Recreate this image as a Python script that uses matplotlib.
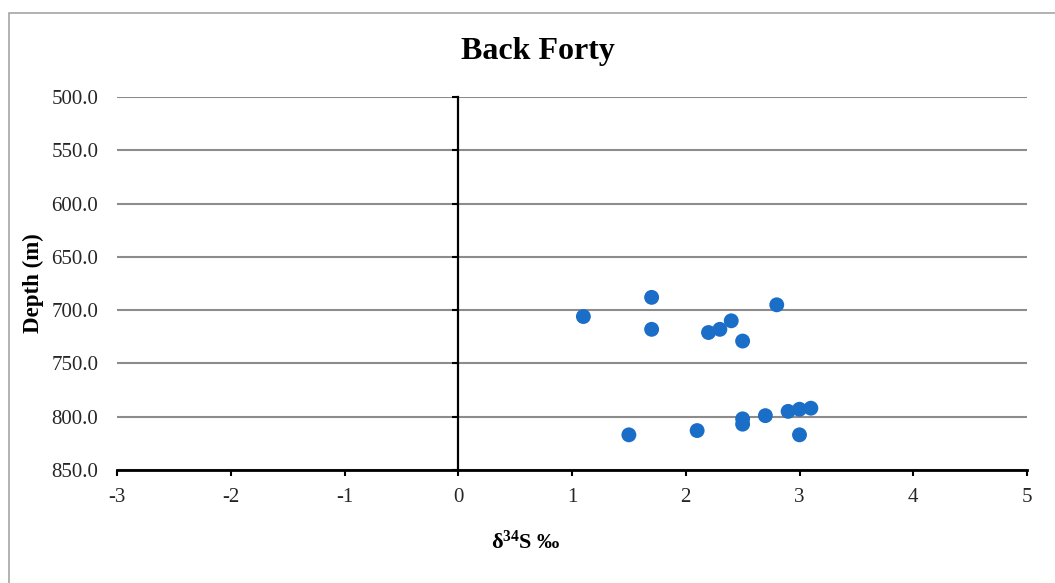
import numpy as np
import matplotlib
matplotlib.use('Agg')
import matplotlib.pyplot as plt
from matplotlib.patches import Rectangle
from matplotlib.ticker import FormatStrFormatter

plt.rcParams['font.family'] = ['Liberation Serif', 'DejaVu Serif']
plt.rcParams['mathtext.default'] = 'regular'
plt.rcParams['axes.unicode_minus'] = False

# data
d34s = [1.1, 1.7, 1.7, 2.2, 2.3, 2.4, 2.5, 2.8,
        1.5, 2.1, 2.5, 2.5, 2.7, 2.9, 3.0, 3.1, 3.0]
depth = [706, 688, 718, 721, 718, 710, 729, 695,
         817, 813, 802, 807, 799, 795, 793, 792, 817]

x_ticks = [-3, -2, -1, 0, 1, 2, 3, 4, 5]
y_ticks = [500, 550, 600, 650, 700, 750, 800, 850]

fig = plt.figure(figsize=(10.55, 5.83), dpi=100)
ax = fig.add_axes([117 / 1055, 1 - 470 / 583, 910 / 1055, 373 / 583])

# chart area border (runs off the right/bottom edge)
fig.patches.append(Rectangle((9 / 1055, -0.2), 1.2, 1.2 - 13 / 583,
                             transform=fig.transFigure, fill=False,
                             edgecolor='#a6a6a6', lw=1.2))

ax.scatter(d34s, depth, s=115, color='#1b6ec8', zorder=3, edgecolors='none')

ax.set_xlim(-3, 5)
ax.set_ylim(850, 500)
ax.set_xticks(x_ticks)
ax.set_yticks(y_ticks)
ax.yaxis.grid(True, color='#8c8c8c', lw=1.5)
ax.set_axisbelow(True)

for s in ['top', 'right']:
    ax.spines[s].set_visible(False)
ax.spines['left'].set_position(('data', 0))
ax.spines['left'].set_color('black')
ax.spines['left'].set_linewidth(1.6)
ax.spines['bottom'].set_color('black')
ax.spines['bottom'].set_linewidth(2)
ax.spines['left'].set_zorder(2.5)

ax.tick_params(axis='y', direction='out', length=4, width=1.5, labelleft=False)
ax.tick_params(axis='x', direction='out', length=4, width=1.5,
               labelsize=15, pad=9, colors='black')
ax.tick_params(axis='x', labelcolor='#262626')

# labels sit at the left edge, like Excel's "low" label position
lab = ax.secondary_yaxis(0)
lab.spines['left'].set_visible(False)
lab.set_yticks(y_ticks)
lab.yaxis.set_major_formatter(FormatStrFormatter('%.1f'))
lab.tick_params(length=0, labelsize=15, pad=13.5, labelcolor='#262626')
lab.set_ylabel('Depth (m)', fontsize=16.5, fontweight='bold', labelpad=5)

fig.text(538 / 1055, 1 - 51 / 583, 'Back Forty', ha='center', va='center',
         fontsize=23, fontweight='bold')
fig.text(526 / 1055, 1 - 542 / 583, 'δ$^{34}$S ‰', ha='center', va='center',
         fontsize=16, fontweight='bold')

fig.savefig('out.png', dpi=100)
